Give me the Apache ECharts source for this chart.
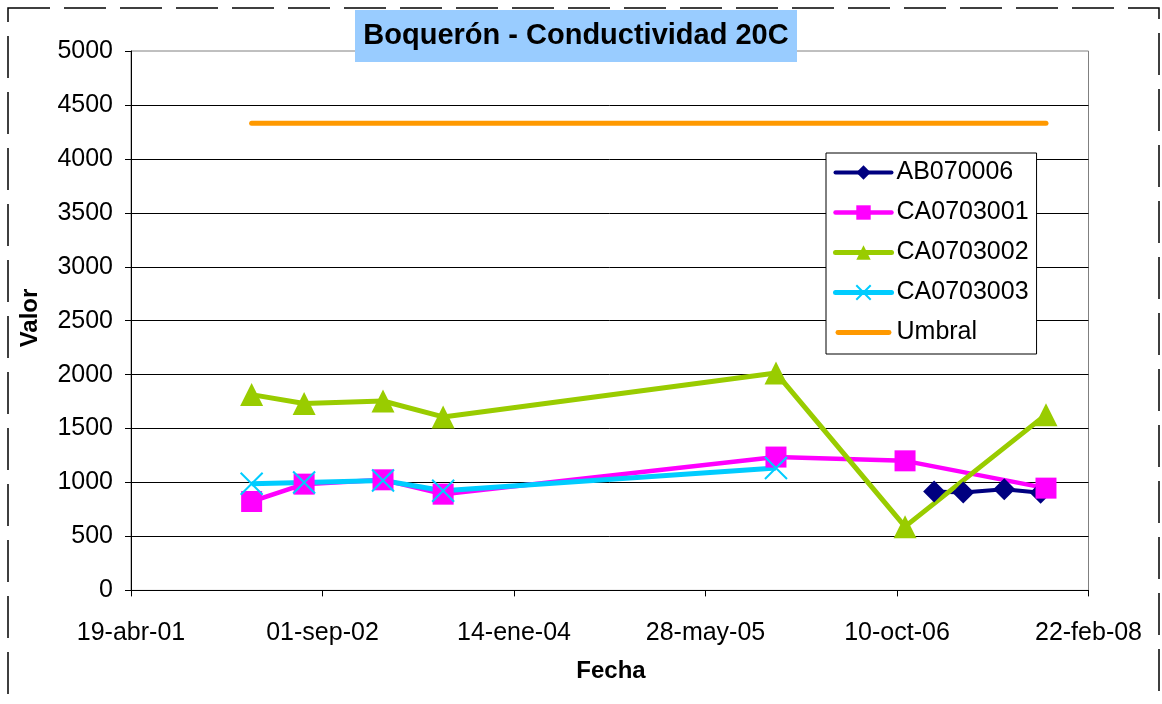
<!DOCTYPE html>
<html>
<head>
<meta charset="utf-8">
<script src="https://cdn.jsdelivr.net/npm/echarts@6/dist/echarts.min.js"></script>
<style>
html,body{margin:0;padding:0;background:#fff;}
#chart{width:1162px;height:704px;}
</style>
</head>
<body>
<div id="chart"></div>
<script>
// ---- data (dates) ----
const titleText = 'Boquerón - Conductividad 20C';
const xAxisName = 'Fecha';
const yAxisName = 'Valor';
const monthNames = ['ene','feb','mar','abr','may','jun','jul','ago','sep','oct','nov','dic'];

const seriesNames = ['AB070006','CA0703001','CA0703002','CA0703003','Umbral'];

const datesAB070006 = ['2007-01-15','2007-04-01','2007-07-17','2007-10-20'];
const valuesAB070006 = [917, 907, 937, 905];

const datesCA = ['2002-02-28','2002-07-15','2003-02-06','2003-07-13','2005-11-28','2006-10-31','2007-11-03'];
const valuesCA0703001 = [824, 985, 1025, 892, 1236, 1201, 948];
const valuesCA0703002 = [1815, 1733, 1756, 1608, 2016, 591, 1629];

const datesCA0703003 = ['2002-02-28','2002-07-15','2003-02-06','2003-07-13','2005-11-28'];
const valuesCA0703003 = [988, 1000, 1019, 923, 1134];

const datesUmbral = ['2002-02-28','2007-11-03'];
const valuesUmbral = [4330, 4330];

const xMin = 37000, xMax = 39500, xStep = 500;   // spreadsheet day serials (19-abr-01 .. 22-feb-08)
const yMin = 0, yMax = 5000, yStep = 500;

// ---- helpers ----
const EPOCH = Date.UTC(1899, 11, 30);
function toSerial(s) {
  const p = s.split('-').map(Number);
  return Math.round((Date.UTC(p[0], p[1] - 1, p[2]) - EPOCH) / 86400000);
}
function fmtDate(v) {
  const d = new Date(EPOCH + v * 86400000);
  const dd = String(d.getUTCDate()).padStart(2, '0');
  return dd + '-' + monthNames[d.getUTCMonth()] + '-' + String(d.getUTCFullYear()).slice(2);
}
function pairs(dates, vals) { return dates.map((d, i) => [toSerial(d), vals[i]]); }

const FONT = "'Liberation Sans', Arial, sans-serif";
const chart = echarts.init(document.getElementById('chart'), null, {renderer: 'canvas'});

const option = {
  animation: false,
  backgroundColor: '#ffffff',
  grid: {
    left: 131, right: 73.5, top: 51, bottom: 113.6,
    show: true, borderColor: '#808080', borderWidth: 1, backgroundColor: 'transparent'
  },
  xAxis: {
    type: 'value', min: xMin, max: xMax, interval: xStep,
    axisLine: {show: true, onZero: false, lineStyle: {color: '#000', width: 1}},
    axisTick: {show: true, length: 6, inside: false, lineStyle: {color: '#000'}},
    splitLine: {show: false},
    axisLabel: {formatter: fmtDate, fontFamily: FONT, fontSize: 25, color: '#000', margin: 30}
  },
  yAxis: {
    type: 'value', min: yMin, max: yMax, interval: yStep,
    axisLine: {show: true, lineStyle: {color: '#000', width: 1}},
    axisTick: {show: true, length: 6, inside: false, lineStyle: {color: '#000'}},
    splitLine: {show: true, showMaxLine: false, lineStyle: {color: '#000', width: 1}},
    axisLabel: {formatter: v => String(v), fontFamily: FONT, fontSize: 25, color: '#000', margin: 18}
  },
  legend: {
    orient: 'vertical', left: 826, top: 153,
    padding: [7, 8, 9, 7],
    itemGap: 15, itemWidth: 56, itemHeight: 18,
    backgroundColor: '#fff', borderColor: '#000', borderWidth: 1,
    textStyle: {fontFamily: FONT, fontSize: 25, color: '#000'},
    lineStyle: {width: 'inherit', cap: 'round'},
    data: [
      seriesNames[0], seriesNames[1], seriesNames[2], seriesNames[3],
      {name: seriesNames[4], icon: 'path://M2,0L54,0A2.5,2.5,0,0,1,54,5L2,5A2.5,2.5,0,0,1,2,0Z'}
    ]
  },
  series: [
    {
      name: seriesNames[0], type: 'line', data: pairs(datesAB070006, valuesAB070006),
      symbol: 'diamond', symbolSize: 22,
      lineStyle: {color: '#000080', width: 4}, itemStyle: {color: '#000080'}
    },
    {
      name: seriesNames[1], type: 'line', data: pairs(datesCA, valuesCA0703001),
      symbol: 'rect', symbolSize: 21,
      lineStyle: {color: '#FF00FF', width: 4.5}, itemStyle: {color: '#FF00FF'}
    },
    {
      name: seriesNames[2], type: 'line', data: pairs(datesCA, valuesCA0703002),
      symbol: 'triangle', symbolSize: 23,
      lineStyle: {color: '#99CC00', width: 5}, itemStyle: {color: '#99CC00'}
    },
    {
      name: seriesNames[3], type: 'line', data: pairs(datesCA0703003, valuesCA0703003),
      symbol: 'path://M0,0L10,10M10,0L0,10', symbolSize: 22,
      lineStyle: {color: '#00CCFF', width: 5},
      itemStyle: {color: 'rgba(0,0,0,0)', borderColor: '#00CCFF', borderWidth: 2}
    },
    {
      name: seriesNames[4], type: 'line', data: pairs(datesUmbral, valuesUmbral),
      symbol: 'none', showSymbol: false,
      lineStyle: {color: '#FF9900', width: 5, cap: 'round'}, itemStyle: {color: '#FF9900'}
    }
  ],
  graphic: [
    {
      type: 'rect', z: 100, silent: true,
      shape: {x: 8, y: 8, width: 1151, height: 760},
      style: {fill: 'none', stroke: '#000', lineWidth: 1.5, lineDash: [42, 14]}
    },
    {
      type: 'rect', z: 100, silent: true,
      shape: {x: 355, y: 10, width: 442, height: 52},
      style: {fill: '#99CCFF'}
    },
    {
      type: 'text', z: 101, silent: true, x: 576, y: 36,
      style: {text: titleText, fontFamily: FONT, fontWeight: 'bold', fontSize: 29,
              fill: '#000', align: 'center', verticalAlign: 'middle'}
    },
    {
      type: 'text', z: 101, silent: true, x: 611, y: 671,
      style: {text: xAxisName, fontFamily: FONT, fontWeight: 'bold', fontSize: 24,
              fill: '#000', align: 'center', verticalAlign: 'middle'}
    },
    {
      type: 'text', z: 101, silent: true, x: 30, y: 318, rotation: Math.PI / 2,
      style: {text: yAxisName, fontFamily: FONT, fontWeight: 'bold', fontSize: 24,
              fill: '#000', align: 'center', verticalAlign: 'middle'}
    }
  ]
};
chart.setOption(option);
</script>
</body>
</html>
